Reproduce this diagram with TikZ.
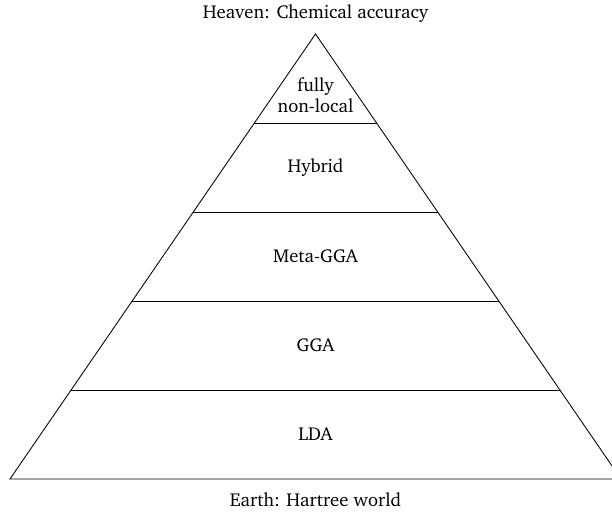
\documentclass[tikz,border=0pt]{standalone}
\usepackage[T1]{fontenc}
\usepackage{charter}
\usetikzlibrary{calc}
\tikzset{
    level label/.style={font=\fontsize{14}{16}\selectfont, align=center},
    level line/.style={line width=0.65pt, black}
}
\begin{document}
\begin{tikzpicture}[x=0.75pt,y=-0.75pt]
\useasboundingbox (0,0) rectangle (612,514);
\coordinate (apex) at (315.5,34);
\coordinate (base left) at (10,479);
\coordinate (base right) at (621,479);
\draw[level line] (apex) -- (base left) -- (base right) -- cycle;
\foreach \t in {1,...,4}
    \draw[level line] ($(apex)!\t/5!(base left)$) -- ($(apex)!\t/5!(base right)$);
\node[level label] (nonlocal) at (315.5,95) {fully\\non-local};
\node[level label] (hybrid) at (315.5,167.5) {Hybrid};
\node[level label] (metagga) at (315.5,256.5) {Meta-GGA};
\node[level label] (gga) at (315.5,345.5) {GGA};
\node[level label] (lda) at (315.5,434.5) {LDA};
\node[level label] (heaven) at (315.5,14) {Heaven: Chemical accuracy};
\node[level label] (earth) at (315.5,500) {Earth: Hartree world};
\end{tikzpicture}
\end{document}
